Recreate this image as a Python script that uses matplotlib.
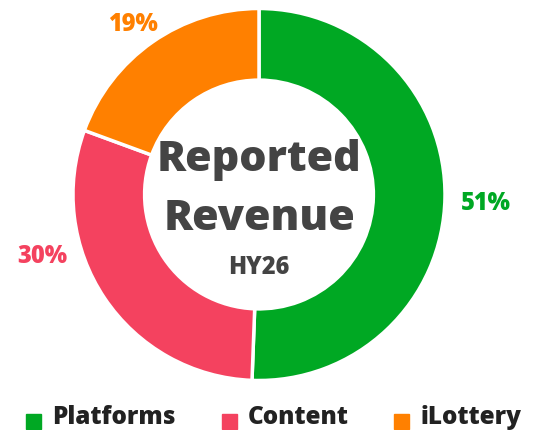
import matplotlib
matplotlib.use("Agg")
import matplotlib.pyplot as plt
import numpy as np
from matplotlib.patches import Rectangle

categories = ["Platforms", "Content", "iLottery"]
values = [50.6, 30.0, 19.4]
colors = ["#00A823", "#F4425F", "#FF8000"]
center_title = ["Reported", "Revenue"]
center_sub = "HY26"

W, H = 542, 431
fig = plt.figure(figsize=(W / 100, H / 100), dpi=100)
ax = fig.add_axes([0, 0, 1, 1])

cx, cy, R = 259, H - 195.5, 186
font = "Open Sans"

wedges, _ = ax.pie(values, colors=colors, startangle=90, counterclock=False,
                   center=(cx, cy), radius=R, frame=True,
                   wedgeprops=dict(width=R * 0.385, edgecolor="white", linewidth=2.5))
ax.set_xlim(0, W)
ax.set_ylim(0, H)
ax.set_aspect("equal")
ax.axis("off")

total = sum(values)
pct_labels = [f"{round(v / total * 100)}%" for v in values]

# percentage labels outside
label_dist = [1.22, 1.21, 1.14]
angle_shift = [-1.0, -18, 1.5]
for w, lab, col, d, s in zip(wedges, pct_labels, colors, label_dist, angle_shift):
    ang = np.deg2rad((w.theta1 + w.theta2) / 2 + s)
    ax.text(cx + d * R * np.cos(ang), cy + d * R * np.sin(ang), lab,
            color=col, fontsize=17, fontweight=800, family=font,
            ha="center", va="center")

ax.text(cx, H - 160, center_title[0], fontsize=31, fontweight=800, family=font,
        color="#444444", ha="center", va="center")
ax.text(cx, H - 219, center_title[1], fontsize=31, fontweight=800, family=font,
        color="#444444", ha="center", va="center")
ax.text(cx, H - 267, center_sub, fontsize=17, fontweight=800, family=font,
        color="#444444", ha="center", va="center")

# legend
leg_x = [26, 222, 394]
for x, cat, col in zip(leg_x, categories, colors):
    ax.add_patch(Rectangle((x, H - 430), 15, 15, color=col, clip_on=False))
    ax.text(x + 26, H - 418, cat, fontsize=17.5, fontweight=800, family=font,
            color="#222222", ha="left", va="center")

fig.savefig("out.png", dpi=100)
